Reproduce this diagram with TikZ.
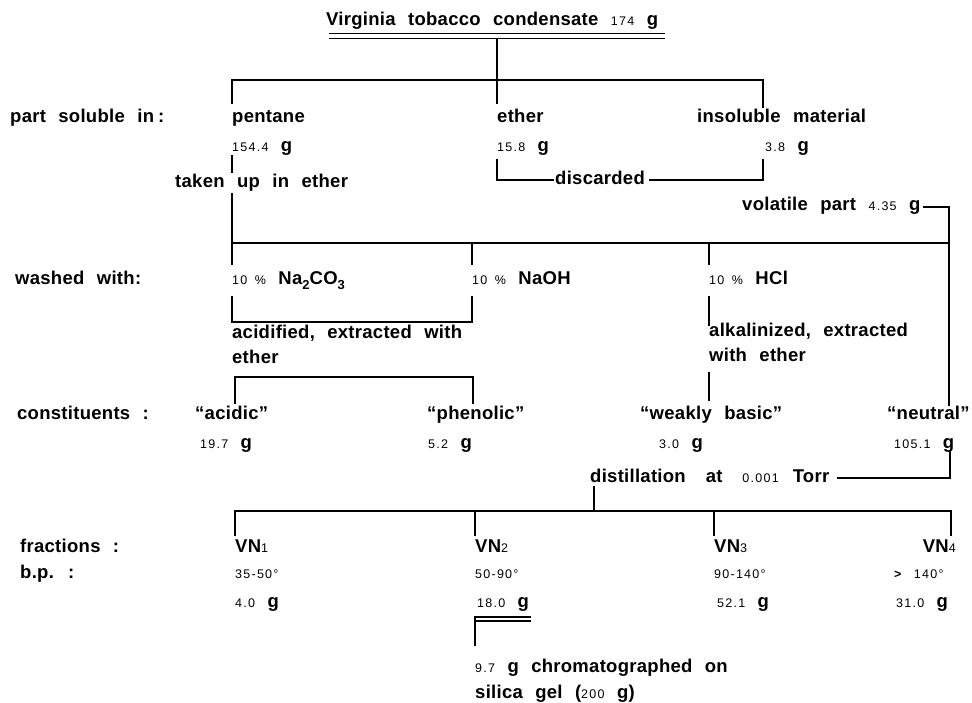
\documentclass[tikz,border=0pt]{standalone}
\usepackage{fontspec}
\setmainfont{Liberation Sans}[BoldFont={Liberation Sans Bold},LetterSpace=1.5,WordSpace=2.3]
\newfontfamily\numfont{Liberation Sans}[LetterSpace=10,WordSpace=1.6]
\newcommand\sn[1]{{\fontsize{12.5}{14}\numfont\mdseries #1}}
\newcommand\subs[1]{\raisebox{-4.5pt}{\fontsize{13}{14}\selectfont #1}}
\begin{document}
\begin{tikzpicture}[x=1pt,y=-1pt,
  lbl/.style={anchor=base west,inner sep=0pt,font=\fontsize{18.5}{21}\selectfont\bfseries},
  lblr/.style={lbl,anchor=base east},
  ln/.style={line width=1.5pt,line cap=rect}]
\useasboundingbox[fill=white] (0,0) rectangle (972,703);

% ---------- texts ----------
\node[lbl] (title) at (326,26) {Virginia tobacco condensate \sn{174} g};
\node[lbl] (psl) at (10,123) {part soluble in\hspace{4pt}:};
\node[lbl] (pent) at (232,123) {pentane};
\node[lbl] (eth) at (497,123) {ether};
\node[lbl] (insol) at (697,123) {insoluble material};
\node[lbl] (pentg) at (232,152) {\sn{154.4} g};
\node[lbl] (ethg) at (497,152) {\sn{15.8} g};
\node[lbl] (insg) at (765,152) {\sn{3.8} g};
\node[lbl] (taken) at (175,188) {taken up in ether};
\node[lbl] (disc) at (555,185) {discarded};
\node[lbl] (vol) at (742,211) {volatile part \sn{4.35} g};
\node[lbl] (wash) at (15,285) {washed with:};
\node[lbl] (naco) at (232,285) {\sn{10 \%} Na\subs{2}CO\subs{3}};
\node[lbl] (naoh) at (472,285) {\sn{10 \%} NaOH};
\node[lbl] (hcl) at (709,285) {\sn{10 \%} HCl};
\node[lbl] (acid1) at (232,338) {acidified, extracted with};
\node[lbl] (acid2) at (232,363) {ether};
\node[lbl] (alk1) at (709,337) {alkalinized, extracted};
\node[lbl] (alk2) at (709,361) {with ether};
\node[lbl] (const) at (17,419) {constituents :};
\node[lbl] (acidic) at (195,419) {“acidic”};
\node[lbl] (phen) at (427,419) {“phenolic”};
\node[lbl] (weak) at (640,419) {“weakly basic”};
\node[lbl] (neut) at (887,419) {“neutral”};
\node[lbl] (acidg) at (200,448) {\sn{19.7} g};
\node[lbl] (pheng) at (428,448) {\sn{5.2} g};
\node[lbl] (weakg) at (659,448) {\sn{3.0} g};
\node[lbl] (neutg) at (894,448) {\sn{105.1} g};
\node[lbl] (dist) at (590,482) {distillation\hspace{20pt}at\hspace{20pt}\sn{0.001}\hspace{14pt}Torr};
\node[lbl] (frac) at (20,552) {fractions :};
\node[lbl] (bp) at (20,578) {b.p. :};
\node[lbl] (vn1) at (235,552) {VN\sn{1}};
\node[lbl] (vn2) at (475,552) {VN\sn{2}};
\node[lbl] (vn3) at (714,552) {VN\sn{3}};
\node[lblr] (vn4) at (956,552) {VN\sn{4}};
\node[lbl] (bp1) at (235,578) {\sn{35-50°}};
\node[lbl] (bp2) at (475,578) {\sn{50-90°}};
\node[lbl] (bp3) at (714,578) {\sn{90-140°}};
\node[lbl] (bp4) at (894,578) {\sn{\bfseries >} \sn{140°}};
\node[lbl] (m1) at (235,607) {\sn{4.0} g};
\node[lbl] (m2) at (477,607) {\sn{18.0} g};
\node[lbl] (m3) at (717,607) {\sn{52.1} g};
\node[lbl] (m4) at (896,607) {\sn{31.0} g};
\node[lbl] (chr1) at (475,672) {\sn{9.7} g chromatographed on};
\node[lbl] (chr2) at (475,698) {silica gel (\sn{200} g)};

% ---------- junction points ----------
\coordinate (ulAa) at (330,33.5);   \coordinate (ulAb) at (664,33.5);
\coordinate (ulBa) at (330,38.5);   \coordinate (ulBb) at (664,38.5);
\coordinate (t0) at (497,38.5);
\coordinate (h1l) at (232,80);      \coordinate (h1r) at (763,80);
\coordinate (pentT) at (232,103);   \coordinate (ethT) at (497,103);
\coordinate (insT) at (763,107);
\coordinate (pentB) at (232,156);   \coordinate (takenT) at (232,172);
\coordinate (takenB) at (232,194);  \coordinate (h2l) at (232,243);
\coordinate (h2r) at (949,243);
\coordinate (dL1) at (497,160);     \coordinate (dL2) at (497,180);
\coordinate (dL3) at (553,180);
\coordinate (dR1) at (763,160);     \coordinate (dR2) at (763,180);
\coordinate (dR3) at (650,180);
\coordinate (volE) at (924,207);    \coordinate (volC) at (949,207);
\coordinate (neutT) at (949,405);
\coordinate (nacoT) at (232,264);
\coordinate (naohA) at (472,243);   \coordinate (naohT) at (472,264);
\coordinate (hclA) at (709,243);    \coordinate (hclT) at (709,264);
\coordinate (bA1) at (232,297);     \coordinate (bA2) at (232,322);
\coordinate (bA3) at (472,322);     \coordinate (bA4) at (472,297);
\coordinate (hclB) at (709,297);    \coordinate (alkT) at (709,325);
\coordinate (alkB) at (709,373);    \coordinate (weakT) at (709,400);
\coordinate (bC1) at (235,403);     \coordinate (bC2) at (235,377);
\coordinate (bC3) at (473,377);     \coordinate (bC4) at (473,403);
\coordinate (neutB) at (950,452);   \coordinate (distC) at (950,478);
\coordinate (distE) at (838,478);
\coordinate (distB) at (594,487);   \coordinate (distJ) at (594,511);
\coordinate (h3l) at (235,511);     \coordinate (h3r) at (951,511);
\coordinate (f2A) at (475,511);     \coordinate (f3A) at (714,511);
\coordinate (f1T) at (235,535);     \coordinate (f2T) at (475,535);
\coordinate (f3T) at (714,535);     \coordinate (f4T) at (951,535);
\coordinate (m2a) at (475,617);     \coordinate (m2b) at (530,617);
\coordinate (m2c) at (475,621);     \coordinate (m2d) at (530,621);
\coordinate (chrT) at (475,645);

% ---------- connectors ----------
\draw[ln] (ulAa) -- (ulAb);
\draw[ln] (ulBa) -- (ulBb);
\draw[ln] (t0) -- (ethT);
\draw[ln] (pentT) -- (h1l) -- (h1r) -- (insT);
\draw[ln] (pentB) -- (takenT);
\draw[ln] (takenB) -- (nacoT);
\draw[ln] (dL1) -- (dL2) -- (dL3);
\draw[ln] (dR3) -- (dR2) -- (dR1);
\draw[ln] (volE) -- (volC) -- (neutT);
\draw[ln] (h2l) -- (h2r);
\draw[ln] (naohA) -- (naohT);
\draw[ln] (hclA) -- (hclT);
\draw[ln] (bA1) -- (bA2) -- (bA3) -- (bA4);
\draw[ln] (hclB) -- (alkT);
\draw[ln] (alkB) -- (weakT);
\draw[ln] (bC1) -- (bC2) -- (bC3) -- (bC4);
\draw[ln] (neutB) -- (distC) -- (distE);
\draw[ln] (distB) -- (distJ);
\draw[ln] (f1T) -- (h3l) -- (h3r) -- (f4T);
\draw[ln] (f2A) -- (f2T);
\draw[ln] (f3A) -- (f3T);
\draw[ln,line width=1.2pt] (m2a) -- (m2b);
\draw[ln,line width=1.2pt] (m2c) -- (m2d);
\draw[ln] (m2a) -- (chrT);
\end{tikzpicture}
\end{document}
